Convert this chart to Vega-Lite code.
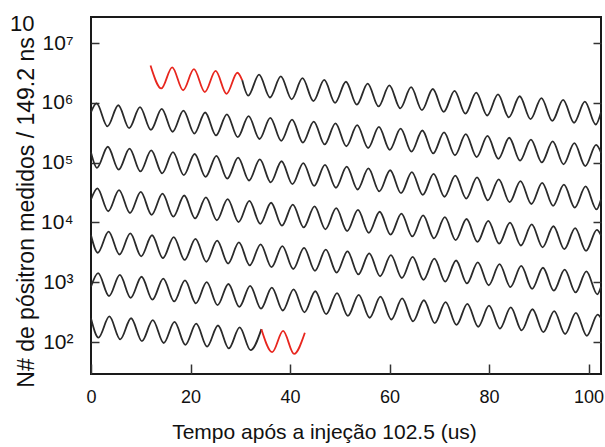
{
  "$schema": "https://vega.github.io/schema/vega-lite/v6.json",
  "width": 510,
  "height": 357,
  "autosize": {"type": "none"},
  "padding": {"left": 91, "top": 17, "right": 4, "bottom": 73},
  "background": "white",
  "title": {"text": "10", "anchor": "start", "frame": "bounds", "fontSize": 22, "font": "Liberation Sans", "fontWeight": "normal", "color": "#111111", "baseline": "alphabetic", "offset": -36, "dx": -5},
  "config": {
    "view": {"stroke": "#1a1a1a", "strokeWidth": 2},
    "axis": {"grid": false, "domain": false, "tickColor": "#333333", "tickWidth": 1.5, "labelColor": "#111111", "titleColor": "#111111", "labelFont": "Liberation Sans", "titleFont": "Liberation Sans", "titleFontWeight": "normal"}
  },
  "data": {"values": [
    {"seg":"r0","tipo":"destaque","t":11.96,"log10n":6.623},
    {"seg":"r0","tipo":"destaque","t":14.14,"log10n":6.240},
    {"seg":"r0","tipo":"destaque","t":16.32,"log10n":6.593},
    {"seg":"r0","tipo":"destaque","t":18.51,"log10n":6.210},
    {"seg":"r0","tipo":"destaque","t":20.69,"log10n":6.563},
    {"seg":"r0","tipo":"destaque","t":22.87,"log10n":6.180},
    {"seg":"r0","tipo":"destaque","t":25.05,"log10n":6.533},
    {"seg":"r0","tipo":"destaque","t":27.24,"log10n":6.150},
    {"seg":"r0","tipo":"destaque","t":29.42,"log10n":6.503},
    {"seg":"r0","tipo":"destaque","t":30.4,"log10n":6.376},
    {"seg":"b0","tipo":"dados","t":30.4,"log10n":6.376},
    {"seg":"b0","tipo":"dados","t":31.6,"log10n":6.120},
    {"seg":"b0","tipo":"dados","t":33.78,"log10n":6.472},
    {"seg":"b0","tipo":"dados","t":35.97,"log10n":6.089},
    {"seg":"b0","tipo":"dados","t":38.15,"log10n":6.442},
    {"seg":"b0","tipo":"dados","t":40.33,"log10n":6.059},
    {"seg":"b0","tipo":"dados","t":42.51,"log10n":6.412},
    {"seg":"b0","tipo":"dados","t":44.7,"log10n":6.029},
    {"seg":"b0","tipo":"dados","t":46.88,"log10n":6.382},
    {"seg":"b0","tipo":"dados","t":49.06,"log10n":5.999},
    {"seg":"b0","tipo":"dados","t":51.24,"log10n":6.352},
    {"seg":"b0","tipo":"dados","t":53.43,"log10n":5.969},
    {"seg":"b0","tipo":"dados","t":55.61,"log10n":6.322},
    {"seg":"b0","tipo":"dados","t":57.79,"log10n":5.939},
    {"seg":"b0","tipo":"dados","t":59.97,"log10n":6.291},
    {"seg":"b0","tipo":"dados","t":62.16,"log10n":5.908},
    {"seg":"b0","tipo":"dados","t":64.34,"log10n":6.261},
    {"seg":"b0","tipo":"dados","t":66.52,"log10n":5.878},
    {"seg":"b0","tipo":"dados","t":68.7,"log10n":6.231},
    {"seg":"b0","tipo":"dados","t":70.89,"log10n":5.848},
    {"seg":"b0","tipo":"dados","t":73.07,"log10n":6.201},
    {"seg":"b0","tipo":"dados","t":75.25,"log10n":5.818},
    {"seg":"b0","tipo":"dados","t":77.43,"log10n":6.171},
    {"seg":"b0","tipo":"dados","t":79.62,"log10n":5.788},
    {"seg":"b0","tipo":"dados","t":81.8,"log10n":6.140},
    {"seg":"b0","tipo":"dados","t":83.98,"log10n":5.757},
    {"seg":"b0","tipo":"dados","t":86.16,"log10n":6.110},
    {"seg":"b0","tipo":"dados","t":88.35,"log10n":5.727},
    {"seg":"b0","tipo":"dados","t":90.53,"log10n":6.080},
    {"seg":"b0","tipo":"dados","t":92.71,"log10n":5.697},
    {"seg":"b0","tipo":"dados","t":94.89,"log10n":6.050},
    {"seg":"b0","tipo":"dados","t":97.08,"log10n":5.667},
    {"seg":"b0","tipo":"dados","t":99.26,"log10n":6.020},
    {"seg":"b0","tipo":"dados","t":101.44,"log10n":5.637},
    {"seg":"b0","tipo":"dados","t":102.5,"log10n":5.843},
    {"seg":"b1","tipo":"dados","t":0,"log10n":5.843},
    {"seg":"b1","tipo":"dados","t":1.12,"log10n":5.989},
    {"seg":"b1","tipo":"dados","t":3.31,"log10n":5.606},
    {"seg":"b1","tipo":"dados","t":5.49,"log10n":5.959},
    {"seg":"b1","tipo":"dados","t":7.67,"log10n":5.576},
    {"seg":"b1","tipo":"dados","t":9.85,"log10n":5.929},
    {"seg":"b1","tipo":"dados","t":12.04,"log10n":5.546},
    {"seg":"b1","tipo":"dados","t":14.22,"log10n":5.899},
    {"seg":"b1","tipo":"dados","t":16.4,"log10n":5.516},
    {"seg":"b1","tipo":"dados","t":18.58,"log10n":5.869},
    {"seg":"b1","tipo":"dados","t":20.77,"log10n":5.486},
    {"seg":"b1","tipo":"dados","t":22.95,"log10n":5.838},
    {"seg":"b1","tipo":"dados","t":25.13,"log10n":5.455},
    {"seg":"b1","tipo":"dados","t":27.31,"log10n":5.808},
    {"seg":"b1","tipo":"dados","t":29.5,"log10n":5.425},
    {"seg":"b1","tipo":"dados","t":31.68,"log10n":5.778},
    {"seg":"b1","tipo":"dados","t":33.86,"log10n":5.395},
    {"seg":"b1","tipo":"dados","t":36.04,"log10n":5.748},
    {"seg":"b1","tipo":"dados","t":38.23,"log10n":5.365},
    {"seg":"b1","tipo":"dados","t":40.41,"log10n":5.718},
    {"seg":"b1","tipo":"dados","t":42.59,"log10n":5.335},
    {"seg":"b1","tipo":"dados","t":44.77,"log10n":5.687},
    {"seg":"b1","tipo":"dados","t":46.96,"log10n":5.304},
    {"seg":"b1","tipo":"dados","t":49.14,"log10n":5.657},
    {"seg":"b1","tipo":"dados","t":51.32,"log10n":5.274},
    {"seg":"b1","tipo":"dados","t":53.5,"log10n":5.627},
    {"seg":"b1","tipo":"dados","t":55.69,"log10n":5.244},
    {"seg":"b1","tipo":"dados","t":57.87,"log10n":5.597},
    {"seg":"b1","tipo":"dados","t":60.05,"log10n":5.214},
    {"seg":"b1","tipo":"dados","t":62.23,"log10n":5.567},
    {"seg":"b1","tipo":"dados","t":64.42,"log10n":5.184},
    {"seg":"b1","tipo":"dados","t":66.6,"log10n":5.537},
    {"seg":"b1","tipo":"dados","t":68.78,"log10n":5.154},
    {"seg":"b1","tipo":"dados","t":70.96,"log10n":5.506},
    {"seg":"b1","tipo":"dados","t":73.15,"log10n":5.123},
    {"seg":"b1","tipo":"dados","t":75.33,"log10n":5.476},
    {"seg":"b1","tipo":"dados","t":77.51,"log10n":5.093},
    {"seg":"b1","tipo":"dados","t":79.69,"log10n":5.446},
    {"seg":"b1","tipo":"dados","t":81.88,"log10n":5.063},
    {"seg":"b1","tipo":"dados","t":84.06,"log10n":5.416},
    {"seg":"b1","tipo":"dados","t":86.24,"log10n":5.033},
    {"seg":"b1","tipo":"dados","t":88.42,"log10n":5.386},
    {"seg":"b1","tipo":"dados","t":90.61,"log10n":5.003},
    {"seg":"b1","tipo":"dados","t":92.79,"log10n":5.355},
    {"seg":"b1","tipo":"dados","t":94.97,"log10n":4.972},
    {"seg":"b1","tipo":"dados","t":97.15,"log10n":5.325},
    {"seg":"b1","tipo":"dados","t":99.34,"log10n":4.942},
    {"seg":"b1","tipo":"dados","t":101.52,"log10n":5.295},
    {"seg":"b1","tipo":"dados","t":102.5,"log10n":5.168},
    {"seg":"b2","tipo":"dados","t":0,"log10n":5.168},
    {"seg":"b2","tipo":"dados","t":1.2,"log10n":4.912},
    {"seg":"b2","tipo":"dados","t":3.38,"log10n":5.265},
    {"seg":"b2","tipo":"dados","t":5.57,"log10n":4.882},
    {"seg":"b2","tipo":"dados","t":7.75,"log10n":5.235},
    {"seg":"b2","tipo":"dados","t":9.93,"log10n":4.852},
    {"seg":"b2","tipo":"dados","t":12.11,"log10n":5.204},
    {"seg":"b2","tipo":"dados","t":14.3,"log10n":4.821},
    {"seg":"b2","tipo":"dados","t":16.48,"log10n":5.174},
    {"seg":"b2","tipo":"dados","t":18.66,"log10n":4.791},
    {"seg":"b2","tipo":"dados","t":20.84,"log10n":5.144},
    {"seg":"b2","tipo":"dados","t":23.03,"log10n":4.761},
    {"seg":"b2","tipo":"dados","t":25.21,"log10n":5.114},
    {"seg":"b2","tipo":"dados","t":27.39,"log10n":4.731},
    {"seg":"b2","tipo":"dados","t":29.57,"log10n":5.084},
    {"seg":"b2","tipo":"dados","t":31.76,"log10n":4.701},
    {"seg":"b2","tipo":"dados","t":33.94,"log10n":5.053},
    {"seg":"b2","tipo":"dados","t":36.12,"log10n":4.670},
    {"seg":"b2","tipo":"dados","t":38.3,"log10n":5.023},
    {"seg":"b2","tipo":"dados","t":40.49,"log10n":4.640},
    {"seg":"b2","tipo":"dados","t":42.67,"log10n":4.993},
    {"seg":"b2","tipo":"dados","t":44.85,"log10n":4.610},
    {"seg":"b2","tipo":"dados","t":47.03,"log10n":4.963},
    {"seg":"b2","tipo":"dados","t":49.22,"log10n":4.580},
    {"seg":"b2","tipo":"dados","t":51.4,"log10n":4.933},
    {"seg":"b2","tipo":"dados","t":53.58,"log10n":4.550},
    {"seg":"b2","tipo":"dados","t":55.76,"log10n":4.902},
    {"seg":"b2","tipo":"dados","t":57.95,"log10n":4.519},
    {"seg":"b2","tipo":"dados","t":60.13,"log10n":4.872},
    {"seg":"b2","tipo":"dados","t":62.31,"log10n":4.489},
    {"seg":"b2","tipo":"dados","t":64.49,"log10n":4.842},
    {"seg":"b2","tipo":"dados","t":66.68,"log10n":4.459},
    {"seg":"b2","tipo":"dados","t":68.86,"log10n":4.812},
    {"seg":"b2","tipo":"dados","t":71.04,"log10n":4.429},
    {"seg":"b2","tipo":"dados","t":73.22,"log10n":4.782},
    {"seg":"b2","tipo":"dados","t":75.41,"log10n":4.399},
    {"seg":"b2","tipo":"dados","t":77.59,"log10n":4.752},
    {"seg":"b2","tipo":"dados","t":79.77,"log10n":4.369},
    {"seg":"b2","tipo":"dados","t":81.95,"log10n":4.721},
    {"seg":"b2","tipo":"dados","t":84.14,"log10n":4.338},
    {"seg":"b2","tipo":"dados","t":86.32,"log10n":4.691},
    {"seg":"b2","tipo":"dados","t":88.5,"log10n":4.308},
    {"seg":"b2","tipo":"dados","t":90.68,"log10n":4.661},
    {"seg":"b2","tipo":"dados","t":92.87,"log10n":4.278},
    {"seg":"b2","tipo":"dados","t":95.05,"log10n":4.631},
    {"seg":"b2","tipo":"dados","t":97.23,"log10n":4.248},
    {"seg":"b2","tipo":"dados","t":99.41,"log10n":4.601},
    {"seg":"b2","tipo":"dados","t":101.6,"log10n":4.218},
    {"seg":"b2","tipo":"dados","t":102.5,"log10n":4.384},
    {"seg":"b3","tipo":"dados","t":0,"log10n":4.384},
    {"seg":"b3","tipo":"dados","t":1.28,"log10n":4.570},
    {"seg":"b3","tipo":"dados","t":3.46,"log10n":4.187},
    {"seg":"b3","tipo":"dados","t":5.64,"log10n":4.540},
    {"seg":"b3","tipo":"dados","t":7.83,"log10n":4.157},
    {"seg":"b3","tipo":"dados","t":10.01,"log10n":4.510},
    {"seg":"b3","tipo":"dados","t":12.19,"log10n":4.127},
    {"seg":"b3","tipo":"dados","t":14.37,"log10n":4.480},
    {"seg":"b3","tipo":"dados","t":16.56,"log10n":4.097},
    {"seg":"b3","tipo":"dados","t":18.74,"log10n":4.450},
    {"seg":"b3","tipo":"dados","t":20.92,"log10n":4.067},
    {"seg":"b3","tipo":"dados","t":23.1,"log10n":4.419},
    {"seg":"b3","tipo":"dados","t":25.29,"log10n":4.036},
    {"seg":"b3","tipo":"dados","t":27.47,"log10n":4.389},
    {"seg":"b3","tipo":"dados","t":29.65,"log10n":4.006},
    {"seg":"b3","tipo":"dados","t":31.83,"log10n":4.359},
    {"seg":"b3","tipo":"dados","t":34.02,"log10n":3.976},
    {"seg":"b3","tipo":"dados","t":36.2,"log10n":4.329},
    {"seg":"b3","tipo":"dados","t":38.38,"log10n":3.946},
    {"seg":"b3","tipo":"dados","t":40.56,"log10n":4.299},
    {"seg":"b3","tipo":"dados","t":42.75,"log10n":3.916},
    {"seg":"b3","tipo":"dados","t":44.93,"log10n":4.268},
    {"seg":"b3","tipo":"dados","t":47.11,"log10n":3.885},
    {"seg":"b3","tipo":"dados","t":49.29,"log10n":4.238},
    {"seg":"b3","tipo":"dados","t":51.48,"log10n":3.855},
    {"seg":"b3","tipo":"dados","t":53.66,"log10n":4.208},
    {"seg":"b3","tipo":"dados","t":55.84,"log10n":3.825},
    {"seg":"b3","tipo":"dados","t":58.02,"log10n":4.178},
    {"seg":"b3","tipo":"dados","t":60.21,"log10n":3.795},
    {"seg":"b3","tipo":"dados","t":62.39,"log10n":4.148},
    {"seg":"b3","tipo":"dados","t":64.57,"log10n":3.765},
    {"seg":"b3","tipo":"dados","t":66.75,"log10n":4.117},
    {"seg":"b3","tipo":"dados","t":68.94,"log10n":3.734},
    {"seg":"b3","tipo":"dados","t":71.12,"log10n":4.087},
    {"seg":"b3","tipo":"dados","t":73.3,"log10n":3.704},
    {"seg":"b3","tipo":"dados","t":75.48,"log10n":4.057},
    {"seg":"b3","tipo":"dados","t":77.67,"log10n":3.674},
    {"seg":"b3","tipo":"dados","t":79.85,"log10n":4.027},
    {"seg":"b3","tipo":"dados","t":82.03,"log10n":3.644},
    {"seg":"b3","tipo":"dados","t":84.21,"log10n":3.997},
    {"seg":"b3","tipo":"dados","t":86.4,"log10n":3.614},
    {"seg":"b3","tipo":"dados","t":88.58,"log10n":3.967},
    {"seg":"b3","tipo":"dados","t":90.76,"log10n":3.584},
    {"seg":"b3","tipo":"dados","t":92.94,"log10n":3.936},
    {"seg":"b3","tipo":"dados","t":95.13,"log10n":3.553},
    {"seg":"b3","tipo":"dados","t":97.31,"log10n":3.906},
    {"seg":"b3","tipo":"dados","t":99.49,"log10n":3.523},
    {"seg":"b3","tipo":"dados","t":101.67,"log10n":3.876},
    {"seg":"b3","tipo":"dados","t":102.5,"log10n":3.784},
    {"seg":"b4","tipo":"dados","t":0,"log10n":3.784},
    {"seg":"b4","tipo":"dados","t":1.36,"log10n":3.493},
    {"seg":"b4","tipo":"dados","t":3.54,"log10n":3.846},
    {"seg":"b4","tipo":"dados","t":5.72,"log10n":3.463},
    {"seg":"b4","tipo":"dados","t":7.9,"log10n":3.816},
    {"seg":"b4","tipo":"dados","t":10.09,"log10n":3.433},
    {"seg":"b4","tipo":"dados","t":12.27,"log10n":3.785},
    {"seg":"b4","tipo":"dados","t":14.45,"log10n":3.402},
    {"seg":"b4","tipo":"dados","t":16.63,"log10n":3.755},
    {"seg":"b4","tipo":"dados","t":18.82,"log10n":3.372},
    {"seg":"b4","tipo":"dados","t":21.0,"log10n":3.725},
    {"seg":"b4","tipo":"dados","t":23.18,"log10n":3.342},
    {"seg":"b4","tipo":"dados","t":25.36,"log10n":3.695},
    {"seg":"b4","tipo":"dados","t":27.55,"log10n":3.312},
    {"seg":"b4","tipo":"dados","t":29.73,"log10n":3.665},
    {"seg":"b4","tipo":"dados","t":31.91,"log10n":3.282},
    {"seg":"b4","tipo":"dados","t":34.09,"log10n":3.634},
    {"seg":"b4","tipo":"dados","t":36.28,"log10n":3.251},
    {"seg":"b4","tipo":"dados","t":38.46,"log10n":3.604},
    {"seg":"b4","tipo":"dados","t":40.64,"log10n":3.221},
    {"seg":"b4","tipo":"dados","t":42.82,"log10n":3.574},
    {"seg":"b4","tipo":"dados","t":45.01,"log10n":3.191},
    {"seg":"b4","tipo":"dados","t":47.19,"log10n":3.544},
    {"seg":"b4","tipo":"dados","t":49.37,"log10n":3.161},
    {"seg":"b4","tipo":"dados","t":51.55,"log10n":3.514},
    {"seg":"b4","tipo":"dados","t":53.74,"log10n":3.131},
    {"seg":"b4","tipo":"dados","t":55.92,"log10n":3.483},
    {"seg":"b4","tipo":"dados","t":58.1,"log10n":3.100},
    {"seg":"b4","tipo":"dados","t":60.28,"log10n":3.453},
    {"seg":"b4","tipo":"dados","t":62.47,"log10n":3.070},
    {"seg":"b4","tipo":"dados","t":64.65,"log10n":3.423},
    {"seg":"b4","tipo":"dados","t":66.83,"log10n":3.040},
    {"seg":"b4","tipo":"dados","t":69.01,"log10n":3.393},
    {"seg":"b4","tipo":"dados","t":71.2,"log10n":3.010},
    {"seg":"b4","tipo":"dados","t":73.38,"log10n":3.363},
    {"seg":"b4","tipo":"dados","t":75.56,"log10n":2.980},
    {"seg":"b4","tipo":"dados","t":77.74,"log10n":3.332},
    {"seg":"b4","tipo":"dados","t":79.93,"log10n":2.949},
    {"seg":"b4","tipo":"dados","t":82.11,"log10n":3.302},
    {"seg":"b4","tipo":"dados","t":84.29,"log10n":2.919},
    {"seg":"b4","tipo":"dados","t":86.47,"log10n":3.272},
    {"seg":"b4","tipo":"dados","t":88.66,"log10n":2.889},
    {"seg":"b4","tipo":"dados","t":90.84,"log10n":3.242},
    {"seg":"b4","tipo":"dados","t":93.02,"log10n":2.859},
    {"seg":"b4","tipo":"dados","t":95.2,"log10n":3.212},
    {"seg":"b4","tipo":"dados","t":97.39,"log10n":2.829},
    {"seg":"b4","tipo":"dados","t":99.57,"log10n":3.181},
    {"seg":"b4","tipo":"dados","t":101.75,"log10n":2.798},
    {"seg":"b4","tipo":"dados","t":102.5,"log10n":2.924},
    {"seg":"b5","tipo":"dados","t":0,"log10n":2.924},
    {"seg":"b5","tipo":"dados","t":1.43,"log10n":3.151},
    {"seg":"b5","tipo":"dados","t":3.62,"log10n":2.768},
    {"seg":"b5","tipo":"dados","t":5.8,"log10n":3.121},
    {"seg":"b5","tipo":"dados","t":7.98,"log10n":2.738},
    {"seg":"b5","tipo":"dados","t":10.16,"log10n":3.091},
    {"seg":"b5","tipo":"dados","t":12.35,"log10n":2.708},
    {"seg":"b5","tipo":"dados","t":14.53,"log10n":3.061},
    {"seg":"b5","tipo":"dados","t":16.71,"log10n":2.678},
    {"seg":"b5","tipo":"dados","t":18.89,"log10n":3.030},
    {"seg":"b5","tipo":"dados","t":21.08,"log10n":2.647},
    {"seg":"b5","tipo":"dados","t":23.26,"log10n":3.000},
    {"seg":"b5","tipo":"dados","t":25.44,"log10n":2.617},
    {"seg":"b5","tipo":"dados","t":27.62,"log10n":2.970},
    {"seg":"b5","tipo":"dados","t":29.81,"log10n":2.587},
    {"seg":"b5","tipo":"dados","t":31.99,"log10n":2.940},
    {"seg":"b5","tipo":"dados","t":34.17,"log10n":2.557},
    {"seg":"b5","tipo":"dados","t":36.35,"log10n":2.910},
    {"seg":"b5","tipo":"dados","t":38.54,"log10n":2.527},
    {"seg":"b5","tipo":"dados","t":40.72,"log10n":2.880},
    {"seg":"b5","tipo":"dados","t":42.9,"log10n":2.497},
    {"seg":"b5","tipo":"dados","t":45.08,"log10n":2.849},
    {"seg":"b5","tipo":"dados","t":47.27,"log10n":2.466},
    {"seg":"b5","tipo":"dados","t":49.45,"log10n":2.819},
    {"seg":"b5","tipo":"dados","t":51.63,"log10n":2.436},
    {"seg":"b5","tipo":"dados","t":53.81,"log10n":2.789},
    {"seg":"b5","tipo":"dados","t":56.0,"log10n":2.406},
    {"seg":"b5","tipo":"dados","t":58.18,"log10n":2.759},
    {"seg":"b5","tipo":"dados","t":60.36,"log10n":2.376},
    {"seg":"b5","tipo":"dados","t":62.54,"log10n":2.729},
    {"seg":"b5","tipo":"dados","t":64.73,"log10n":2.346},
    {"seg":"b5","tipo":"dados","t":66.91,"log10n":2.698},
    {"seg":"b5","tipo":"dados","t":69.09,"log10n":2.315},
    {"seg":"b5","tipo":"dados","t":71.27,"log10n":2.668},
    {"seg":"b5","tipo":"dados","t":73.46,"log10n":2.285},
    {"seg":"b5","tipo":"dados","t":75.64,"log10n":2.638},
    {"seg":"b5","tipo":"dados","t":77.82,"log10n":2.255},
    {"seg":"b5","tipo":"dados","t":80.0,"log10n":2.608},
    {"seg":"b5","tipo":"dados","t":82.19,"log10n":2.225},
    {"seg":"b5","tipo":"dados","t":84.37,"log10n":2.578},
    {"seg":"b5","tipo":"dados","t":86.55,"log10n":2.195},
    {"seg":"b5","tipo":"dados","t":88.73,"log10n":2.548},
    {"seg":"b5","tipo":"dados","t":90.92,"log10n":2.165},
    {"seg":"b5","tipo":"dados","t":93.1,"log10n":2.517},
    {"seg":"b5","tipo":"dados","t":95.28,"log10n":2.134},
    {"seg":"b5","tipo":"dados","t":97.46,"log10n":2.487},
    {"seg":"b5","tipo":"dados","t":99.65,"log10n":2.104},
    {"seg":"b5","tipo":"dados","t":101.83,"log10n":2.457},
    {"seg":"b5","tipo":"dados","t":102.5,"log10n":2.395},
    {"seg":"b6","tipo":"dados","t":0,"log10n":2.395},
    {"seg":"b6","tipo":"dados","t":1.51,"log10n":2.074},
    {"seg":"b6","tipo":"dados","t":3.69,"log10n":2.427},
    {"seg":"b6","tipo":"dados","t":5.88,"log10n":2.044},
    {"seg":"b6","tipo":"dados","t":8.06,"log10n":2.397},
    {"seg":"b6","tipo":"dados","t":10.24,"log10n":2.014},
    {"seg":"b6","tipo":"dados","t":12.42,"log10n":2.366},
    {"seg":"b6","tipo":"dados","t":14.61,"log10n":1.983},
    {"seg":"b6","tipo":"dados","t":16.79,"log10n":2.336},
    {"seg":"b6","tipo":"dados","t":18.97,"log10n":1.953},
    {"seg":"b6","tipo":"dados","t":21.15,"log10n":2.306},
    {"seg":"b6","tipo":"dados","t":23.34,"log10n":1.923},
    {"seg":"b6","tipo":"dados","t":25.52,"log10n":2.276},
    {"seg":"b6","tipo":"dados","t":27.7,"log10n":1.893},
    {"seg":"b6","tipo":"dados","t":29.88,"log10n":2.246},
    {"seg":"b6","tipo":"dados","t":32.07,"log10n":1.863},
    {"seg":"b6","tipo":"dados","t":34.25,"log10n":2.215},
    {"seg":"r6","tipo":"destaque","t":34.25,"log10n":2.215},
    {"seg":"r6","tipo":"destaque","t":36.43,"log10n":1.832},
    {"seg":"r6","tipo":"destaque","t":38.61,"log10n":2.185},
    {"seg":"r6","tipo":"destaque","t":40.8,"log10n":1.802},
    {"seg":"r6","tipo":"destaque","t":42.98,"log10n":2.155}
  ]},
  "encoding": {
    "x": {"field": "t", "type": "quantitative", "scale": {"domain": [0, 102.5], "nice": false, "zero": false},
      "axis": {"title": "Tempo após a injeção 102.5 (us)", "values": [0, 20, 40, 60, 80, 100], "tickSize": -10, "labelFontSize": 18, "labelPadding": 38, "labelBaseline": "alphabetic", "labelFlush": false, "titleFontSize": 21, "titleX": 233, "titleY": 64, "titleBaseline": "alphabetic", "titleAlign": "center"}},
    "detail": {"field": "seg", "type": "nominal"}
  },
  "layer": [
    {
      "mark": {"type": "line", "interpolate": "monotone", "strokeWidth": 1.8},
      "encoding": {
        "y": {"field": "log10n", "type": "quantitative", "scale": {"domain": [1.465, 7.435], "nice": false, "zero": false},
          "axis": {"title": "N# de pósitron medidos / 149.2 ns", "values": [2, 3, 4, 5, 6, 7], "labelExpr": "'10' + ['⁰','¹','²','³','⁴','⁵','⁶','⁷','⁸','⁹'][datum.value]", "tickSize": -8, "labelFontSize": 21, "labelPadding": 26, "titleFontSize": 23, "titleX": -53, "titleY": 195}},
        "color": {"field": "tipo", "type": "nominal", "scale": {"domain": ["dados", "destaque"], "range": ["#2a2a2a", "#e8261e"]}, "legend": null}
      }
    },
    {
      "mark": {"type": "line", "strokeOpacity": 0},
      "encoding": {
        "y": {"field": "log10n", "type": "quantitative", "axis": {"orient": "right", "labels": false, "title": null, "tickSize": -8, "values": [2, 3, 4, 5, 6, 7]}}
      }
    }
  ],
  "resolve": {"axis": {"y": "independent"}}
}
